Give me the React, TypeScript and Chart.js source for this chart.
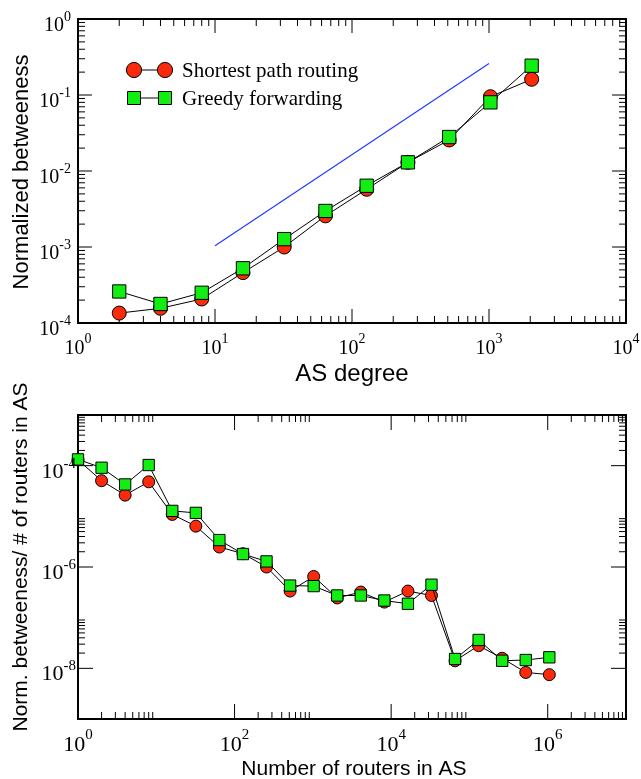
import React, { useEffect, useRef } from "react";
import { Chart, registerables } from "chart.js";

Chart.register(...registerables);

// ---------- data: top panel ----------
const topDegrees = [2, 4, 8, 16, 32, 64, 128, 256, 512, 1024, 2048];
const topShortest = [1.35e-4, 1.56e-4, 2.07e-4, 4.6e-4, 1.0e-3, 2.57e-3, 5.75e-3, 1.3e-2, 2.56e-2, 0.095, 0.161];
const topGreedy = [2.6e-4, 1.78e-4, 2.5e-4, 5.25e-4, 1.27e-3, 2.98e-3, 6.4e-3, 1.3e-2, 2.8e-2, 0.08, 0.243];
const guideX = [10, 1000];
const guideY = [1.04e-3, 0.26];

// ---------- data: bottom panel ----------
const bottomRouters = [1, 2, 4, 8, 16, 32, 64, 128, 256, 512, 1024, 2048, 4096, 8192, 16384, 32768, 65536, 131072, 262144, 524288, 1048576];
const bottomShortest = [1.3e-4, 5.05e-5, 2.62e-5, 4.8e-5, 1.09e-5, 6.4e-6, 2.48e-6, 1.83e-6, 1.0e-6, 3.35e-7, 6.5e-7, 2.45e-7, 3.2e-7, 2.03e-7, 3.35e-7, 2.74e-7, 1.41e-8, 2.8e-8, 1.58e-8, 8.3e-9, 7.5e-9];
const bottomGreedy = [1.33e-4, 9.1e-5, 4.26e-5, 1.03e-4, 1.28e-5, 1.17e-5, 3.4e-6, 1.8e-6, 1.29e-6, 4.3e-7, 4.2e-7, 2.74e-7, 2.74e-7, 2.18e-7, 1.88e-7, 4.47e-7, 1.53e-8, 3.63e-8, 1.41e-8, 1.46e-8, 1.65e-8];

// ---------- ticks ----------
const topXExps = [0, 1, 2, 3, 4];
const topYExps = [-4, -3, -2, -1, 0];
const bottomXExps = [0, 2, 4, 6];
const bottomYExps = [-8, -6, -4];
const minorMultipliers = [2, 3, 4, 5, 6, 7, 8, 9];

const legendLabels = ["Shortest path routing", "Greedy forwarding"];
const topXTitle = "AS degree";
const topYTitle = "Normalized betweeness";
const bottomXTitle = "Number of routers in AS";
const bottomYTitle = "Norm. betweeness/ # of routers in AS";

const RED = "#fa2a0a";
const GREEN = "#12ee12";
const BLUE = "#1e3cff";
const SERIF = '"Liberation Serif", "Times New Roman", serif';
const SANS = '"Liberation Sans", Arial, sans-serif';

type Decor = {
  xExps: number[];
  yExps: number[];
  majorLen: number;
  minorLen: number;
  labelFont: number;
  expFont: number;
  xLabelBase: number;
  xExpBase: number;
  yLabelGap: number;
  yLabelBase: number;
  yExpBase: number;
  xTitle: string;
  xTitleFont: number;
  xTitleY: number;
  xTitleX: number;
  yTitle: string;
  yTitleFont: number;
  yTitleX: number;
  yTitleY: number;
  legend: boolean;
};

function makeDecor(d: Decor) {
  return {
    id: "decor",
    beforeDatasetsDraw(chart: any) {
      const ctx = chart.ctx as CanvasRenderingContext2D;
      const { left, right, top, bottom } = chart.chartArea;
      const xs = chart.scales.x;
      const ys = chart.scales.y;
      ctx.save();
      ctx.strokeStyle = "#000";
      ctx.lineWidth = 1;
      ctx.beginPath();
      const xMin = xs.min, xMax = xs.max, yMin = ys.min, yMax = ys.max;
      const xTick = (v: number, len: number) => {
        const p = xs.getPixelForValue(v);
        ctx.moveTo(p, bottom);
        ctx.lineTo(p, bottom - len);
        ctx.moveTo(p, top);
        ctx.lineTo(p, top + len);
      };
      const yTick = (v: number, len: number) => {
        const p = ys.getPixelForValue(v);
        ctx.moveTo(left, p);
        ctx.lineTo(left + len, p);
        ctx.moveTo(right, p);
        ctx.lineTo(right - len, p);
      };
      d.xExps.forEach((e) => {
        const v = Math.pow(10, e);
        if (v > xMin * 1.0001 && v < xMax * 0.9999) xTick(v, d.majorLen);
        minorMultipliers.forEach((m) => {
          const mv = m * v;
          if (mv > xMin && mv < xMax) xTick(mv, d.minorLen);
        });
      });
      d.yExps.forEach((e) => {
        const v = Math.pow(10, e);
        if (v > yMin * 1.0001 && v < yMax * 0.9999) yTick(v, d.majorLen);
        minorMultipliers.forEach((m) => {
          const mv = m * v;
          if (mv > yMin && mv < yMax) yTick(mv, d.minorLen);
        });
      });
      ctx.stroke();
      ctx.lineWidth = 2;
      ctx.strokeRect(left, top, right - left, bottom - top);
      ctx.restore();
    },
    afterDraw(chart: any) {
      const ctx = chart.ctx as CanvasRenderingContext2D;
      const { left, bottom } = chart.chartArea;
      const xs = chart.scales.x;
      const ys = chart.scales.y;
      ctx.save();
      ctx.fillStyle = "#000";
      ctx.textBaseline = "alphabetic";
      ctx.textAlign = "left";
      const measure = (s: string, size: number) => {
        ctx.font = `${size}px ${SERIF}`;
        return ctx.measureText(s).width;
      };
      d.xExps.forEach((e) => {
        const p = xs.getPixelForValue(Math.pow(10, e));
        const es = String(e);
        const w1 = measure("10", d.labelFont);
        const w2 = measure(es, d.expFont);
        const start = p - (w1 + w2) / 2;
        ctx.font = `${d.labelFont}px ${SERIF}`;
        ctx.fillText("10", start, bottom + d.xLabelBase);
        ctx.font = `${d.expFont}px ${SERIF}`;
        ctx.fillText(es, start + w1, bottom + d.xExpBase);
      });
      d.yExps.forEach((e) => {
        const p = ys.getPixelForValue(Math.pow(10, e));
        const es = String(e);
        const w1 = measure("10", d.labelFont);
        const w2 = measure(es, d.expFont);
        const start = left - d.yLabelGap - (w1 + w2);
        ctx.font = `${d.labelFont}px ${SERIF}`;
        ctx.fillText("10", start, p + d.yLabelBase);
        ctx.font = `${d.expFont}px ${SERIF}`;
        ctx.fillText(es, start + w1, p + d.yExpBase);
      });
      // axis titles
      ctx.font = `${d.xTitleFont}px ${SANS}`;
      ctx.textAlign = "center";
      ctx.fillText(d.xTitle, d.xTitleX, d.xTitleY);
      ctx.save();
      ctx.translate(d.yTitleX, d.yTitleY);
      ctx.rotate(-Math.PI / 2);
      ctx.font = `${d.yTitleFont}px ${SANS}`;
      ctx.fillText(d.yTitle, 0, 0);
      ctx.restore();

      if (d.legend) {
        const rows = [70, 98];
        ctx.lineWidth = 1;
        ctx.strokeStyle = "#000";
        rows.forEach((ry, i) => {
          ctx.beginPath();
          ctx.moveTo(134, ry);
          ctx.lineTo(165, ry);
          ctx.stroke();
          [134, 165].forEach((cx) => {
            ctx.beginPath();
            if (i === 0) {
              ctx.arc(cx, ry, 7.6, 0, Math.PI * 2);
              ctx.fillStyle = RED;
            } else {
              ctx.rect(cx - 6.5, ry - 6.5, 13, 13);
              ctx.fillStyle = GREEN;
            }
            ctx.fill();
            ctx.stroke();
          });
          ctx.fillStyle = "#000";
          ctx.textAlign = "left";
          ctx.font = `21px ${SERIF}`;
          ctx.fillText(legendLabels[i], 182, ry + 7);
        });
      }
      ctx.restore();
    },
  };
}

function seriesPoints(xs: number[], ys: number[]) {
  return xs.map((x, i) => ({ x, y: ys[i] }));
}

function topConfig(): any {
  return {
    type: "line",
    data: {
      datasets: [
        {
          data: seriesPoints(topDegrees, topGreedy),
          borderColor: "#000",
          borderWidth: 1,
          pointStyle: "rect",
          pointRadius: 9.4,
          pointBackgroundColor: GREEN,
          pointBorderColor: "#000",
          pointBorderWidth: 1,
          tension: 0,
          clip: false,
          order: 0,
        },
        {
          data: seriesPoints(topDegrees, topShortest),
          borderColor: "#000",
          borderWidth: 1,
          pointStyle: "circle",
          pointRadius: 7,
          pointBackgroundColor: RED,
          pointBorderColor: "#000",
          pointBorderWidth: 1,
          tension: 0,
          clip: false,
          order: 1,
        },
        {
          data: seriesPoints(guideX, guideY),
          borderColor: BLUE,
          borderWidth: 1.2,
          pointRadius: 0,
          tension: 0,
          order: 2,
        },
      ],
    },
    options: {
      animation: false,
      responsive: false,
      events: [],
      layout: { padding: { left: 78, right: 15, top: 19, bottom: 77 } },
      plugins: { legend: { display: false }, tooltip: { enabled: false } },
      scales: {
        x: { type: "logarithmic", min: 1, max: 10000, display: false },
        y: { type: "logarithmic", min: 1e-4, max: 1, display: false },
      },
    },
    plugins: [
      makeDecor({
        xExps: topXExps,
        yExps: topYExps,
        majorLen: 14,
        minorLen: 7,
        labelFont: 20,
        expFont: 14,
        xLabelBase: 31,
        xExpBase: 20,
        yLabelGap: 7,
        yLabelBase: 12,
        yExpBase: 2,
        xTitle: topXTitle,
        xTitleFont: 24,
        xTitleX: 352,
        xTitleY: 381,
        yTitle: topYTitle,
        yTitleFont: 22,
        yTitleX: 28,
        yTitleY: 172,
        legend: true,
      }),
    ],
  };
}

function bottomConfig(): any {
  return {
    type: "line",
    data: {
      datasets: [
        {
          data: seriesPoints(bottomRouters, bottomGreedy),
          borderColor: "#000",
          borderWidth: 1,
          pointStyle: "rect",
          pointRadius: 8,
          pointBackgroundColor: GREEN,
          pointBorderColor: "#000",
          pointBorderWidth: 1,
          tension: 0,
          clip: false,
          order: 0,
        },
        {
          data: seriesPoints(bottomRouters, bottomShortest),
          borderColor: "#000",
          borderWidth: 1,
          pointStyle: "circle",
          pointRadius: 6,
          pointBackgroundColor: RED,
          pointBorderColor: "#000",
          pointBorderWidth: 1,
          tension: 0,
          clip: false,
          order: 1,
        },
      ],
    },
    options: {
      animation: false,
      responsive: false,
      events: [],
      layout: { padding: { left: 78, right: 15, top: 35, bottom: 60 } },
      plugins: { legend: { display: false }, tooltip: { enabled: false } },
      scales: {
        x: { type: "logarithmic", min: 1, max: 1e7, display: false },
        y: { type: "logarithmic", min: 1e-9, max: 1e-3, display: false },
      },
    },
    plugins: [
      makeDecor({
        xExps: bottomXExps,
        yExps: bottomYExps,
        majorLen: 15,
        minorLen: 7,
        labelFont: 22,
        expFont: 15,
        xLabelBase: 32,
        xExpBase: 20,
        yLabelGap: 2,
        yLabelBase: 12,
        yExpBase: 2,
        xTitle: bottomXTitle,
        xTitleFont: 21,
        xTitleX: 354,
        xTitleY: 395,
        yTitle: bottomYTitle,
        yTitleFont: 21,
        yTitleX: 27,
        yTitleY: 177,
        legend: false,
      }),
    ],
  };
}

function ChartCanvas({ height, makeConfig }: { height: number; makeConfig: () => any }) {
  const ref = useRef<HTMLCanvasElement>(null);
  useEffect(() => {
    if (!ref.current) return;
    const chart = new Chart(ref.current, makeConfig());
    return () => chart.destroy();
  }, []);
  return <canvas ref={ref} width={641} height={height} style={{ display: "block", width: 641, height }} />;
}

export default function App() {
  return (
    <div style={{ position: "absolute", left: 0, top: 0, width: 641, height: 779, background: "#fff" }}>
      <div style={{ position: "absolute", left: 0, top: 0 }}>
        <ChartCanvas height={400} makeConfig={topConfig} />
      </div>
      <div style={{ position: "absolute", left: 0, top: 380 }}>
        <ChartCanvas height={399} makeConfig={bottomConfig} />
      </div>
    </div>
  );
}
